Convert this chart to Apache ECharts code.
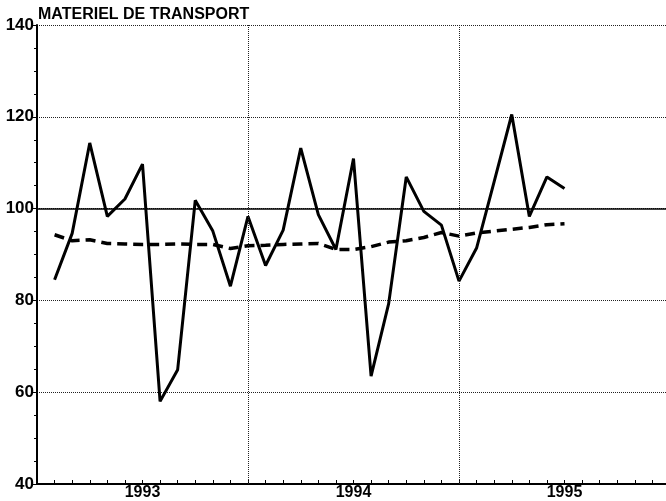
<!DOCTYPE html>
<html>
<head>
<meta charset="utf-8">
<script src="https://cdn.jsdelivr.net/npm/echarts@6/dist/echarts.min.js"></script>
<style>
html,body{margin:0;padding:0;background:#fff;}
#chart{width:666px;height:501px;}
</style>
</head>
<body>
<div id="chart"></div>
<script>
// months counted from Jan 1993 (0 = start of 1993)
const months = [1,2,3,4,5,6,7,8,9,10,11,12,13,14,15,16,17,18,19,20,21,22,23,24,25,26,27,28,29,30];
const indice = [84.5,94.6,114.3,98.3,102.1,109.7,58.0,64.9,101.8,95.1,83.1,98.3,
                87.6,95.3,113.2,98.7,91.1,110.9,63.5,79.3,106.9,99.4,96.4,84.2,
                91.4,105.9,120.5,98.3,106.9,104.4];
const tendance = [94.3,93.0,93.2,92.4,92.3,92.2,92.2,92.3,92.2,92.2,91.3,91.9,
                  92.0,92.2,92.3,92.4,91.1,91.1,91.7,92.7,93.0,93.7,94.8,94.0,
                  94.7,95.1,95.5,95.9,96.5,96.7];
const years = ['1993','1994','1995'];
const yearBreaks = [12,24];

const font = 'Liberation Sans, Arial, sans-serif';
let chart = echarts.init(document.getElementById('chart'));

function pairs(vals){
  return months.map((m,i)=>[m,vals[i]]);
}

let option = {
  animation:false,
  title:{
    text:'MATERIEL DE TRANSPORT',
    left:33, top:2,
    textStyle:{fontFamily:font,fontSize:16,fontWeight:'bold',color:'#000'}
  },
  grid:{left:37,right:-4,top:25,bottom:17,outerBoundsMode:'none'},
  xAxis:{
    type:'value',min:0,max:36,interval:1,
    axisLine:{lineStyle:{color:'#000',width:2}},
    axisTick:{inside:true,length:4,lineStyle:{color:'#000'}},
    axisLabel:{
      margin:1,fontFamily:font,fontSize:16,fontWeight:'bold',color:'#000',
      formatter:function(v){ return v%12===6 ? years[(v-6)/12] : ''; }
    },
    splitLine:{show:false}
  },
  yAxis:{
    type:'value',min:40,max:140,interval:20,
    axisLine:{show:true,lineStyle:{color:'#000',width:2}},
    axisTick:{show:true,length:4,lineStyle:{color:'#000'}},
    minorTick:{show:true,splitNumber:4,length:3,lineStyle:{color:'#000'}},
    axisLabel:{margin:3,fontFamily:font,fontSize:17,fontWeight:'bold',color:'#000'},
    splitLine:{show:true,lineStyle:{color:'#222',type:'dotted',width:1}}
  },
  series:[
    {
      type:'line',data:pairs(indice),symbol:'none',
      lineStyle:{color:'#000',width:3},
      markLine:{
        silent:true,symbol:'none',label:{show:false},
        data:[
          {yAxis:100,lineStyle:{color:'#000',type:'solid',width:1.5}}
        ].concat(yearBreaks.map(b=>({xAxis:b,lineStyle:{color:'#222',type:'dotted',width:1}})))
      }
    },
    {
      type:'line',data:pairs(tendance),symbol:'none',
      lineStyle:{color:'#000',width:3.5,type:[10,6]}
    }
  ]
};
chart.setOption(option);
</script>
</body>
</html>
